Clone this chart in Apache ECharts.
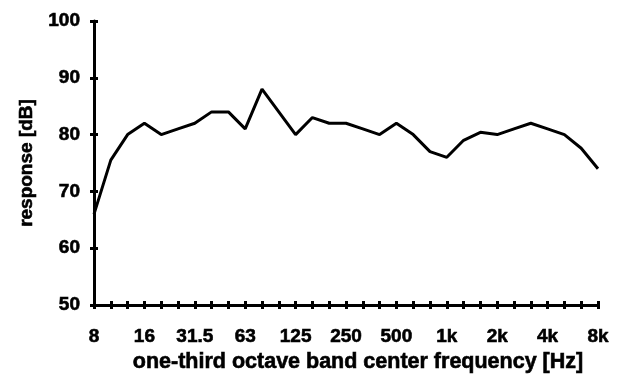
<!DOCTYPE html>
<html><head><meta charset="utf-8">
<script src="https://cdn.jsdelivr.net/npm/echarts@6/dist/echarts.min.js"></script>
<style>html,body{margin:0;padding:0;background:#fff}#c{width:620px;height:383px}</style>
</head><body><div id="c"></div>
<script>
const bands = ['8','10','12.5','16','20','25','31.5','40','50','63','80','100','125','160','200','250','315','400','500','630','800','1k','1.25k','1.6k','2k','2.5k','3.15k','4k','5k','6.3k','8k'];
const response = [66,75.5,80,82,80,81,82,84,84,81,88,84,80,83,82,82,81,80,82,80,77,76,79,80.4,80,81,82,81,80,77.6,74];
const yTicks = [50,60,70,80,90,100];

const font = '"Liberation Sans", Arial, sans-serif';
const heavy = {color:'#000', fontFamily:font, fontWeight:'bold', textBorderColor:'#000', textBorderWidth:0.6};
const chart = echarts.init(document.getElementById('c'), null, {renderer:'canvas'});
const axisLine = {show:true, lineStyle:{color:'#000', width:3}};
chart.setOption({
  animation:false,
  grid:{left:94, right:22, top:21, bottom:78},
  xAxis:[{
    type:'category', data:bands, boundaryGap:false,
    axisLine:axisLine,
    axisTick:{show:true, interval:0, length:4, inside:false, lineStyle:{color:'#000', width:3}},
    axisLabel:Object.assign({interval:2, fontSize:19, margin:22}, heavy),
    name:'one-third octave band center frequency [Hz]', nameLocation:'middle', nameGap:41,
    nameTextStyle:Object.assign({fontSize:21.5, padding:[0,0,0,24]}, heavy),
    splitLine:{show:false}
  },{
    type:'category', data:bands, boundaryGap:false, position:'bottom',
    axisLine:{show:false},
    axisTick:{show:true, interval:0, length:4, inside:true, lineStyle:{color:'#000', width:3}},
    axisLabel:{show:false}, splitLine:{show:false}
  }],
  yAxis:[{
    type:'value', min:yTicks[0], max:yTicks[yTicks.length-1], interval:10,
    axisLine:axisLine,
    axisTick:{show:true, length:4, lineStyle:{color:'#000', width:3}},
    axisLabel:Object.assign({fontSize:19, margin:14}, heavy),
    splitLine:{show:false},
    name:'response [dB]', nameLocation:'middle', nameGap:58,
    nameTextStyle:Object.assign({fontSize:19}, heavy)
  },{
    type:'value', min:yTicks[0], max:yTicks[yTicks.length-1], interval:10, position:'left',
    axisLine:{show:false},
    axisTick:{show:true, length:4, inside:true, lineStyle:{color:'#000', width:3}},
    axisLabel:{show:false}, splitLine:{show:false}
  }],
  series:[{
    type:'line', data:response, xAxisIndex:0, yAxisIndex:0,
    showSymbol:false, symbol:'none',
    lineStyle:{color:'#000', width:3}
  }]
});
</script></body></html>
